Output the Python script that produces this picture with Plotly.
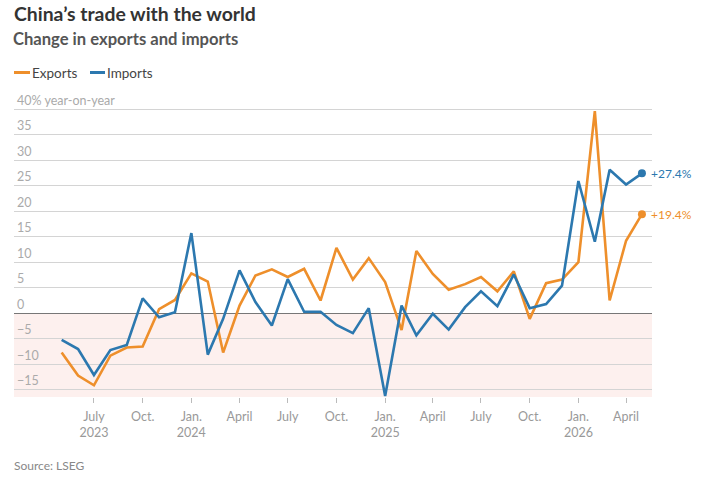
import pandas as pd
import plotly.graph_objects as go

# monthly year-on-year change, May 2023 - May 2026
months = pd.date_range("2023-05-01", "2026-05-01", freq="MS")

exports = [-7.7, -12.2, -14.1, -8.3, -6.7, -6.5, 0.8, 2.6,
           7.8, 6.2, -7.7, 1.5, 7.4, 8.6, 7.1, 8.7, 2.5, 12.8, 6.6, 10.8,
           6.1, -3.3, 12.2, 7.7, 4.6, 5.7, 7.1, 4.3, 8.2, -1.1, 5.9, 6.6,
           10.0, 39.6, 2.5, 14.2, 19.4]
imports = [-5.2, -7.0, -12.1, -7.2, -6.2, 2.9, -0.8, 0.2,
           15.7, -8.1, -1.1, 8.4, 2.2, -2.4, 6.7, 0.3, 0.3, -2.3, -3.9, 1.0,
           -16.2, 1.5, -4.3, -0.1, -3.2, 1.2, 4.3, 1.4, 7.6, 1.0, 1.8, 5.4,
           25.9, 14.0, 28.1, 25.2, 27.4]

tick_dates = pd.date_range("2023-07-01", "2026-04-01", freq="QS")
tick_text = ["July<br>2023", "Oct.", "Jan.<br>2024", "April", "July", "Oct.",
             "Jan.<br>2025", "April", "July", "Oct.", "Jan.<br>2026", "April"]

y_ticks = [-15, -10, -5, 0, 5, 10, 15, 20, 25, 30, 35, 40]
y_text = ["−15", "−10", "−5", "0", "5", "10", "15", "20", "25", "30", "35",
          "40% year-on-year"]

ORANGE = "#EE8F2B"
BLUE = "#2C78AF"
FONT = "Lato"

W, H = 702, 485
L, R, T, B = 14, 50, 108, 88
PH = H - T - B


def py(px_y):
    # pixel row -> paper y
    return (H - B - px_y) / PH


def pxx(px_x):
    return (px_x - L) / (W - L - R)


fig = go.Figure()

series = [("Exports", exports, ORANGE), ("Imports", imports, BLUE)]
for name, vals, col in series:
    fig.add_trace(go.Scatter(
        x=months, y=vals, mode="lines", name=name,
        line=dict(color=col, width=2.6),
        hoverinfo="skip", showlegend=False,
    ))

# end dots and labels
for name, vals, col in series:
    fig.add_trace(go.Scatter(
        x=[months[-1]], y=[vals[-1]], mode="markers",
        marker=dict(color=col, size=8), showlegend=False, hoverinfo="skip",
    ))
    fig.add_annotation(
        x=months[-1], y=vals[-1], text=f"+{vals[-1]:.1f}%",
        showarrow=False, xanchor="left", xshift=7,
        font=dict(family=FONT, size=12, color=col),
    )

# pink band below zero
fig.add_shape(type="rect", xref="paper", yref="y", x0=0, x1=1,
              y0=-16.4, y1=0, fillcolor="#FDF0EE", line_width=0, layer="below")

# legend, drawn by hand to get the short key lines
legend_items = [("Exports", ORANGE, 14, 30, 32), ("Imports", BLUE, 90, 105, 107)]
for name, col, x0, x1, tx in legend_items:
    fig.add_shape(type="line", xref="paper", yref="paper",
                  x0=pxx(x0), x1=pxx(x1), y0=py(72.5), y1=py(72.5),
                  line=dict(color=col, width=3))
    fig.add_annotation(text=name, xref="paper", yref="paper", x=pxx(tx), y=py(72.5),
                       xanchor="left", yanchor="middle", showarrow=False, xshift=-2,
                       font=dict(family=FONT, size=13.5, color="#444444"))

fig.add_annotation(
    text="<b>Change in exports and imports</b>", xref="paper", yref="paper",
    x=0, y=py(39), xanchor="left", yanchor="middle", showarrow=False, xshift=-3,
    font=dict(family=FONT, size=16.6, color="#555555"),
)

fig.add_annotation(
    text="Source: LSEG", xref="paper", yref="paper", x=0, y=py(466),
    xanchor="left", yanchor="middle", showarrow=False, xshift=-2,
    font=dict(family=FONT, size=12, color="#888888"),
)

fig.update_layout(
    width=W, height=H,
    margin=dict(l=L, r=R, t=T, b=B),
    paper_bgcolor="white", plot_bgcolor="white",
    font=dict(family=FONT, color="#999999", size=12.5),
    title=dict(
        text="<b>China’s trade with the world</b>",
        x=L / W, xref="container", xanchor="left",
        y=1 - 14 / H, yanchor="middle",
        font=dict(family=FONT, size=19.4, color="#333333"),
    ),
    showlegend=False,
    xaxis=dict(
        range=["2023-01-31", "2026-05-20"],
        tickvals=tick_dates, ticktext=tick_text,
        showgrid=False, zeroline=False, showline=False,
        ticks="outside", ticklen=5, tickcolor="#bbbbbb", tickwidth=1,
        ticklabelstandoff=3,
        tickfont=dict(family=FONT, size=12.5, color="#999999"),
    ),
    yaxis=dict(
        range=[-16.4, 40.2],
        tickvals=y_ticks, ticktext=y_text,
        ticklabelposition="inside top", ticklabeloverflow="allow",
        showgrid=True, gridcolor="#d4d4d4", gridwidth=1,
        zeroline=True, zerolinecolor="#777777", zerolinewidth=1.2,
        showline=False, ticks="",
        tickfont=dict(family=FONT, size=12.5, color="#aaaaaa"),
    ),
)

# drop the default body margin so the figure sits at the window's corner
fig.write_html("out.html", config={"displayModeBar": False},
               post_script="document.body.style.margin='0px';")
